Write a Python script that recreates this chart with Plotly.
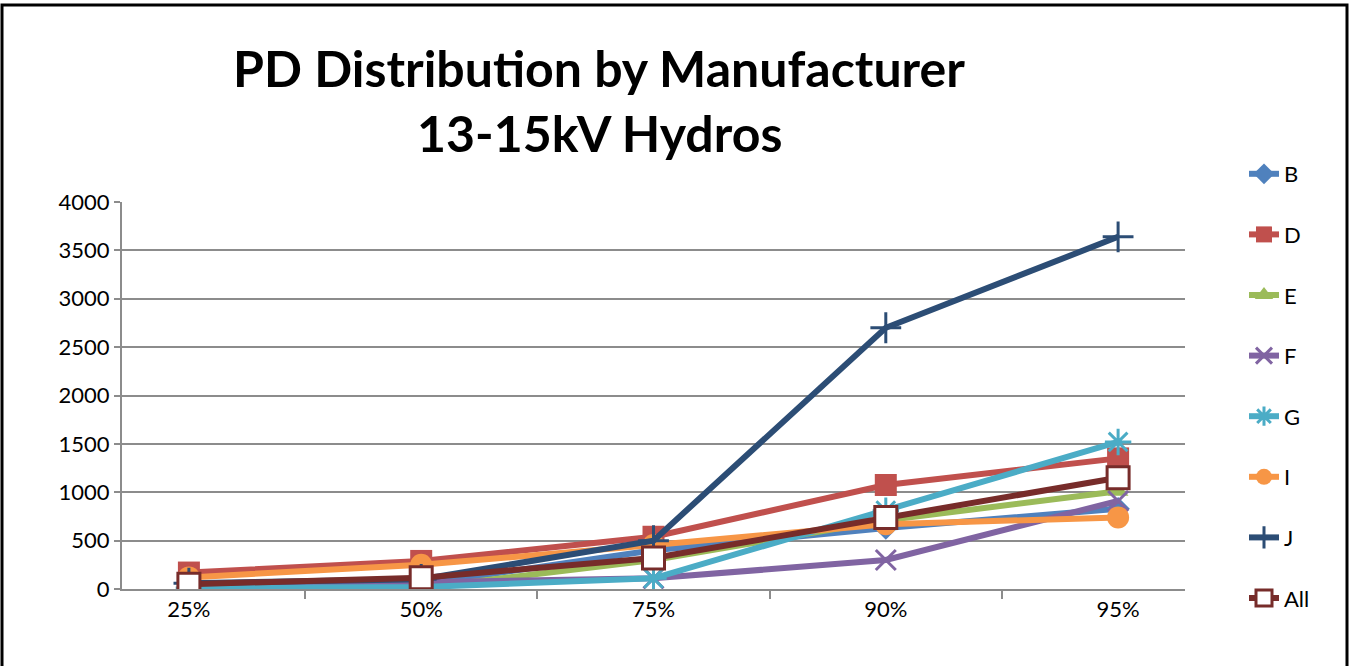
import plotly.graph_objects as go

categories = ["25%", "50%", "75%", "90%", "95%"]
series_names = ["B", "D", "E", "F", "G", "I", "J", "All"]
B = [10, 50, 400, 630, 830]
D = [170, 290, 540, 1075, 1350]
E = [0, 10, 300, 710, 1010]
F = [10, 70, 110, 300, 910]
G = [10, 20, 110, 810, 1520]
I = [120, 250, 455, 670, 740]
J = [60, 100, 500, 2700, 3640]
All = [50, 115, 320, 740, 1150]
values = [B, D, E, F, G, I, J, All]

colors = ["#4F81BD", "#C0504D", "#9BBB59", "#8064A2", "#4BACC6", "#F79646", "#2C4D75", "#772C2A"]
symbols = ["diamond", "square", "triangle-up", "x-thin", "asterisk", "circle", "cross-thin", "square"]
sizes = [18, 22, 18, 20, 22, 22, 22, 22]

W, H = 1352, 666
L, R, T, B_ = 122, 167, 202, 77
pw, ph = W - L - R, H - T - B_

fig = go.Figure()
for name, vals, c, s, sz in zip(series_names, values, colors, symbols, sizes):
    if name == "All":
        marker = dict(symbol=s, size=sz, color="white", line=dict(color=c, width=3))
    elif s in ("x-thin", "asterisk", "cross-thin"):
        marker = dict(symbol=s, size=sz, color=c, line=dict(color=c, width=3))
    else:
        marker = dict(symbol=s, size=sz, color=c)
    fig.add_trace(go.Scatter(
        x=categories, y=vals, name=name, mode="lines+markers",
        line=dict(color=c, width=6), marker=marker, legendgroup=name,
    ))

fig.add_annotation(text="<b>PD Distribution by Manufacturer</b>", xref="paper", yref="paper",
                   x=(599 - L) / pw, y=1 + (T - 68) / ph, xanchor="center", yanchor="middle",
                   showarrow=False, font=dict(family="Lato", size=50, color="black"))
fig.add_annotation(text="<b>13-15kV Hydros</b>", xref="paper", yref="paper",
                   x=(599 - L) / pw, y=1 + (T - 133) / ph, xanchor="center", yanchor="middle",
                   showarrow=False, font=dict(family="Lato", size=50, color="black"))

fig.add_shape(type="rect", xref="paper", yref="paper",
              x0=(2 - L) / pw, x1=(1347 - L) / pw,
              y0=-(670 - (T + ph)) / ph, y1=1 + (T - 5) / ph,
              line=dict(color="black", width=3), fillcolor="rgba(0,0,0,0)", layer="below")

fig.update_layout(
    width=W, height=H,
    margin=dict(l=L, r=R, t=T, b=B_),
    paper_bgcolor="white", plot_bgcolor="white",
    font=dict(family="Lato", size=22, color="black"),
    showlegend=True,
    legend=dict(x=(1244 - L) / pw, y=1 + (T - 153) / ph, xanchor="left", yanchor="top",
                font=dict(size=22), tracegroupgap=29, bgcolor="rgba(0,0,0,0)",
                maxheight=600),
    xaxis=dict(type="category", tickson="boundaries", ticks="outside", ticklen=8,
               tickcolor="#8c8c8c", tickwidth=2, showline=True, linecolor="#8c8c8c",
               linewidth=2, showgrid=False, tickfont=dict(size=22)),
    yaxis=dict(range=[0, 4000], dtick=500, showgrid=True, gridcolor="#8c8c8c", gridwidth=2,
               showline=True, linecolor="#8c8c8c", linewidth=2, ticks="outside", ticklen=6,
               tickcolor="#8c8c8c", tickwidth=2, zeroline=False, tickfont=dict(size=22)),
)

fig.write_html("out.html", config={"displayModeBar": False},
               post_script="document.body.style.margin='0px';")
